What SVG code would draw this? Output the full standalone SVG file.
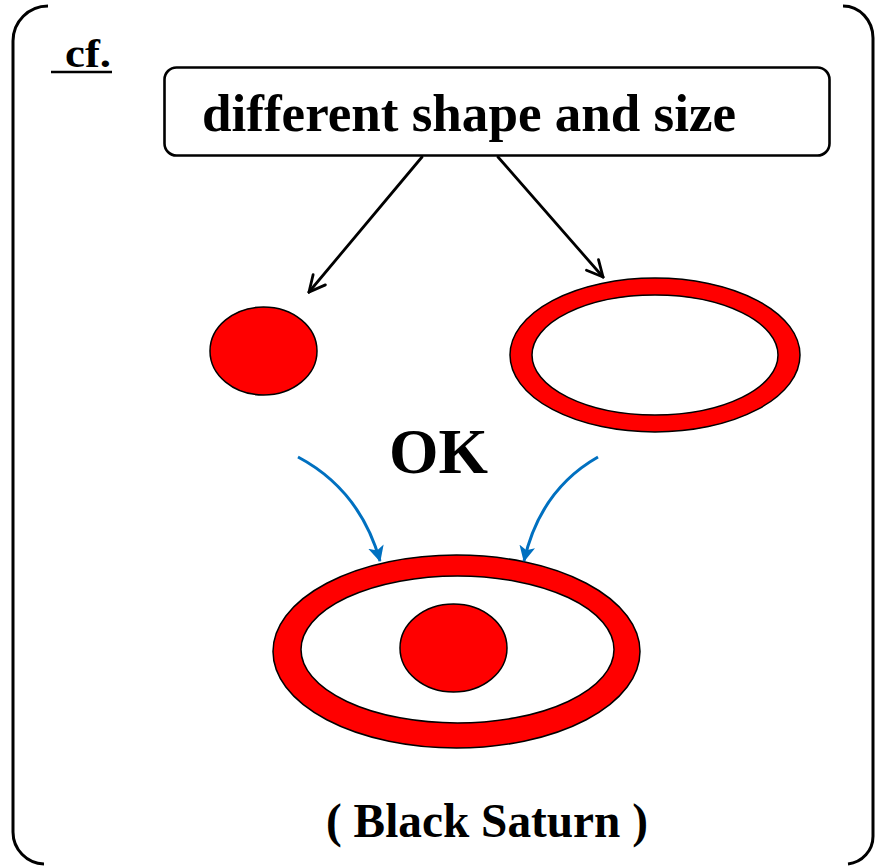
<svg xmlns="http://www.w3.org/2000/svg" width="875" height="866" viewBox="0 0 875 866">
<style>
.lbl{font-family:"Liberation Serif","Times New Roman",serif;font-weight:bold;fill:#000}
.frame{fill:none;stroke:#000;stroke-width:3}
.red{fill:#ff0000;stroke:#000;stroke-width:1.5;fill-rule:evenodd}
.blk{fill:none;stroke:#000;stroke-width:2.8;stroke-linecap:round}
.blu{fill:none;stroke:#0070C0;stroke-width:3}
</style>
<defs>
<marker id="vhead" viewBox="0 0 20 20" refX="18" refY="10" markerWidth="20" markerHeight="20" markerUnits="userSpaceOnUse" orient="auto">
<path d="M2,2 L18,10 L2,18" fill="none" stroke="#000" stroke-width="2.8" stroke-linecap="round" stroke-linejoin="miter"/>
</marker>
<marker id="bhead" viewBox="0 0 16 16" refX="15" refY="8" markerWidth="16" markerHeight="16" markerUnits="userSpaceOnUse" orient="auto">
<path d="M0,0 L16,8 L0,16 L4,8 Z" fill="#0070C0"/>
</marker>
</defs>
<g id="frame">
<path class="frame" d="M48,6 A35,35 0 0 0 13,41 L13,832 A32,32 0 0 0 44,864"/>
<path class="frame" d="M843,6 A30,32 0 0 1 873,38 L873,836 A28,28 0 0 1 848,864"/>
</g>
<g id="cf">
<text class="lbl" x="65" y="67" font-size="40" textLength="46" lengthAdjust="spacingAndGlyphs">cf.</text>
<line x1="51" y1="72" x2="112" y2="72" stroke="#000" stroke-width="2.5"/>
</g>
<g id="box">
<rect x="164.5" y="67.5" width="665" height="88" rx="12" ry="12" fill="#fff" stroke="#000" stroke-width="2.6"/>
<text class="lbl" x="202" y="131" font-size="52" textLength="534" lengthAdjust="spacingAndGlyphs">different shape and size</text>
</g>
<g id="small-circle">
<ellipse class="red" cx="263.5" cy="351" rx="53.5" ry="44"/>
</g>
<g id="ring">
<path class="red" d="M510,355 A145,77 0 1 0 800,355 A145,77 0 1 0 510,355 Z M532,355 A123,60 0 1 0 778,355 A123,60 0 1 0 532,355 Z"/>
</g>
<g id="ok">
<text class="lbl" x="389" y="473" font-size="64" textLength="99" lengthAdjust="spacingAndGlyphs">OK</text>
</g>
<g id="saturn">
<path class="red" d="M273,651.5 A183.5,96.5 0 1 0 640,651.5 A183.5,96.5 0 1 0 273,651.5 Z M301,649.5 A156.5,73.5 0 1 0 614,649.5 A156.5,73.5 0 1 0 301,649.5 Z"/>
<ellipse class="red" cx="453.5" cy="648" rx="53.5" ry="44"/>
</g>
<g id="connectors">
<path class="blk" d="M422,157 L309,292" marker-end="url(#vhead)"/>
<path class="blk" d="M498,157 L603,277" marker-end="url(#vhead)"/>
<path class="blu" d="M298,457 Q360,490 380,561" marker-end="url(#bhead)"/>
<path class="blu" d="M598,457 Q540,490 524,561" marker-end="url(#bhead)"/>
</g>
<g id="caption">
<text class="lbl" x="326" y="837" font-size="48" textLength="322" lengthAdjust="spacingAndGlyphs">( Black Saturn )</text>
</g>
</svg>
